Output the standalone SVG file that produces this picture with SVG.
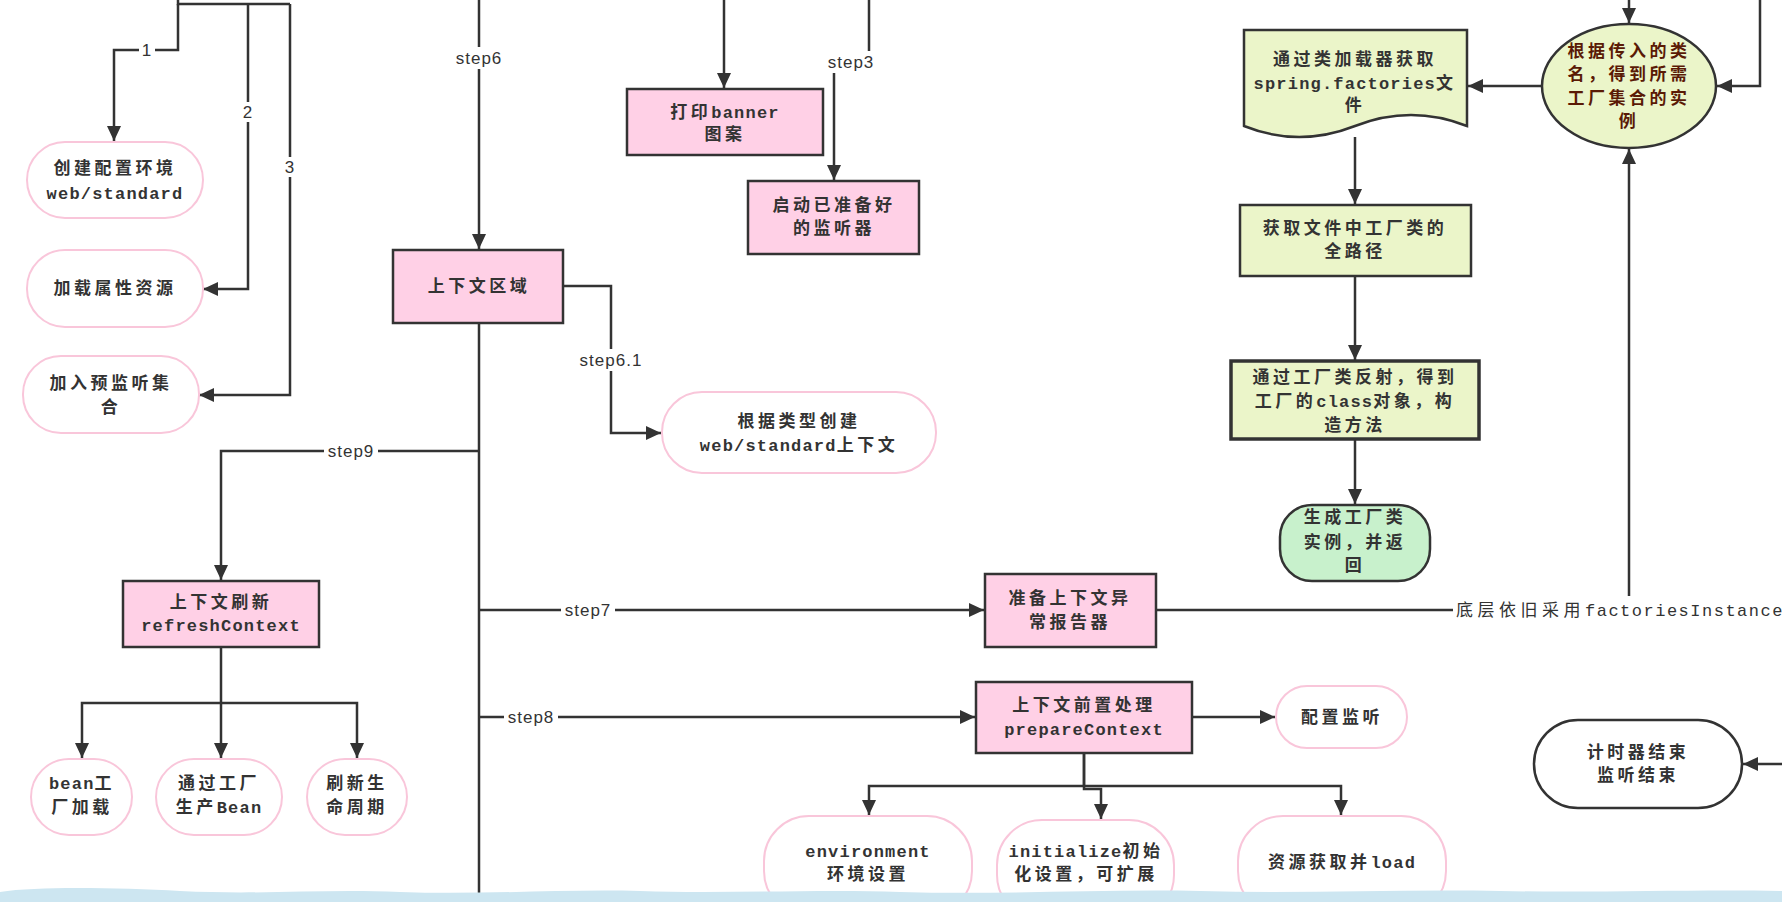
<svg xmlns="http://www.w3.org/2000/svg" width="1782" height="902" viewBox="0 0 1782 902">
<defs>
<marker id="ah" markerUnits="userSpaceOnUse" markerWidth="16" markerHeight="14" refX="15" refY="7" orient="auto">
<path d="M0,0 L15,7 L0,14 z" fill="#333"/>
</marker>
<style>
.c{fill:none;stroke:#333;stroke-width:2.5}
.a{marker-end:url(#ah)}
.pk{fill:#ffd0e6;stroke:#333;stroke-width:2.5}
.rw{fill:#fff;stroke:#f9c6da;stroke-width:2}
.gr{fill:#ebf5c9;stroke:#333;stroke-width:2.5}
.t{font-family:"Noto Sans CJK SC","Liberation Mono",sans-serif;font-weight:bold;font-size:17px;letter-spacing:3.5px;fill:#333;text-anchor:middle}
.m{font-family:"Liberation Mono","Noto Sans CJK SC",monospace;letter-spacing:1.2px}
.s{font-family:"Liberation Sans",Arial,sans-serif;font-size:17px;letter-spacing:1px;fill:#333;text-anchor:middle}
.bg{fill:#fff}
</style>
</defs>
<rect x="0" y="0" width="1782" height="902" fill="#fff"/>

<g id="connectors">
<path class="c" d="M178,0 V4 H290"/>
<path class="c a" d="M178,4 V50 H114 V141"/>
<path class="c a" d="M248,4 V289 H203"/>
<path class="c a" d="M290,4 V395 H199"/>
<path class="c a" d="M479,0 V249"/>
<path class="c a" d="M724,0 V88"/>
<path class="c a" d="M869,0 V62 H834 V180"/>
<path class="c a" d="M563,286 H611 V433 H661"/>
<path class="c" d="M479,323 V902"/>
<path class="c a" d="M479,451 H221 V580"/>
<path class="c a" d="M479,610 H984"/>
<path class="c a" d="M479,717 H975"/>
<path class="c a" d="M1192,717 H1275"/>
<path class="c a" d="M1084,753 V786 H869 V815"/>
<path class="c a" d="M1084,753 V789 H1101 V819"/>
<path class="c a" d="M1084,786 H1341 V815"/>
<path class="c a" d="M221,647 V758"/>
<path class="c a" d="M221,703 H82 V758"/>
<path class="c a" d="M221,703 H357 V758"/>
<path class="c a" d="M1355,137 V204"/>
<path class="c a" d="M1355,276 V360"/>
<path class="c a" d="M1355,439 V504"/>
<path class="c a" d="M1542,86 H1468"/>
<path class="c a" d="M1629,0 V23"/>
<path class="c a" d="M1760,0 V86 H1717"/>
<path class="c a" d="M1156,610 H1629 V149"/>
<path class="c a" d="M1782,764 H1743"/>
<rect class="bg" x="139" y="40" width="16" height="20"/>
<text class="s" x="147" y="56">1</text>
<rect class="bg" x="240" y="102" width="16" height="20"/>
<text class="s" x="248" y="118">2</text>
<rect class="bg" x="282" y="157" width="16" height="20"/>
<text class="s" x="290" y="173">3</text>
<rect class="bg" x="452" y="47" width="54" height="22"/>
<text class="s" x="479" y="64">step6</text>
<rect class="bg" x="824" y="51" width="54" height="22"/>
<text class="s" x="851" y="68">step3</text>
<rect class="bg" x="575" y="349" width="72" height="22"/>
<text class="s" x="611" y="366">step6.1</text>
<rect class="bg" x="324" y="440" width="54" height="22"/>
<text class="s" x="351" y="457">step9</text>
<rect class="bg" x="561" y="599" width="54" height="22"/>
<text class="s" x="588" y="616">step7</text>
<rect class="bg" x="504" y="706" width="54" height="22"/>
<text class="s" x="531" y="723">step8</text>
<rect class="bg" x="1453" y="596" width="340" height="28"/>
<text class="t" x="1456" y="616" style="text-anchor:start;font-weight:normal;letter-spacing:4.5px">底层依旧采用<tspan class="m" style="letter-spacing:1.5px">factoriesInstances</tspan></text>
</g>

<g id="n1"><rect class="rw" x="27" y="142" width="176" height="76" rx="38"/><text class="t" x="115" y="174">创建配置环境</text><text class="t" x="115" y="199"><tspan class="m">web/standard</tspan></text></g>
<g id="n2"><rect class="rw" x="27" y="250" width="176" height="77" rx="38"/><text class="t" x="115" y="294">加载属性资源</text></g>
<g id="n3"><rect class="rw" x="23" y="356" width="176" height="77" rx="38"/><text class="t" x="111" y="389">加入预监听集</text><text class="t" x="111" y="413">合</text></g>
<g id="n4"><rect class="pk" x="393" y="250" width="170" height="73"/><text class="t" x="479" y="292">上下文区域</text></g>
<g id="n5"><rect class="pk" x="627" y="89" width="196" height="66"/><text class="t" x="725" y="118">打印<tspan class="m">banner</tspan></text><text class="t" x="725" y="140">图案</text></g>
<g id="n6"><rect class="pk" x="748" y="181" width="171" height="73"/><text class="t" x="834" y="211">启动已准备好</text><text class="t" x="834" y="234">的监听器</text></g>
<g id="n7"><rect class="rw" x="662" y="392" width="274" height="81" rx="40"/><text class="t" x="799" y="427">根据类型创建</text><text class="t" x="799" y="451"><tspan class="m">web/standard</tspan>上下文</text></g>
<g id="n8"><rect class="pk" x="123" y="581" width="196" height="66"/><text class="t" x="221" y="608">上下文刷新</text><text class="t" x="221" y="631"><tspan class="m">refreshContext</tspan></text></g>
<g id="n9"><rect class="rw" x="31" y="759" width="101" height="76" rx="38"/><text class="t" x="82" y="789"><tspan class="m">bean</tspan>工</text><text class="t" x="82" y="813">厂加载</text></g>
<g id="n10"><rect class="rw" x="156" y="759" width="126" height="76" rx="38"/><text class="t" x="219" y="789">通过工厂</text><text class="t" x="219" y="813">生产<tspan class="m">Bean</tspan></text></g>
<g id="n11"><rect class="rw" x="307" y="759" width="100" height="76" rx="38"/><text class="t" x="357" y="789">刷新生</text><text class="t" x="357" y="813">命周期</text></g>
<g id="n12"><rect class="pk" x="985" y="574" width="171" height="73"/><text class="t" x="1070" y="604">准备上下文异</text><text class="t" x="1070" y="628">常报告器</text></g>
<g id="n13"><rect class="pk" x="976" y="682" width="216" height="71"/><text class="t" x="1084" y="711">上下文前置处理</text><text class="t" x="1084" y="735"><tspan class="m">prepareContext</tspan></text></g>
<g id="n14"><rect class="rw" x="1276" y="686" width="131" height="62" rx="31"/><text class="t" x="1342" y="723">配置监听</text></g>
<g id="n15"><rect class="rw" x="764" y="816" width="208" height="100" rx="45"/><text class="t" x="868" y="857"><tspan class="m">environment</tspan></text><text class="t" x="868" y="880">环境设置</text></g>
<g id="n16"><rect class="rw" x="997" y="820" width="177" height="100" rx="45"/><text class="t" x="1086" y="857"><tspan class="m">initialize</tspan>初始</text><text class="t" x="1086" y="880">化设置，可扩展</text></g>
<g id="n17"><rect class="rw" x="1238" y="816" width="208" height="100" rx="45"/><text class="t" x="1342" y="868">资源获取并<tspan class="m">load</tspan></text></g>
<g id="n18"><rect x="1534" y="720" width="208" height="88" rx="44" fill="#fff" stroke="#333" stroke-width="2.5"/><text class="t" x="1638" y="758">计时器结束</text><text class="t" x="1638" y="781">监听结束</text></g>
<g id="n19"><path class="gr" d="M1244,30 H1467 V126 Q1411,104 1355,126 Q1299,148 1244,126 Z"/><text class="t" x="1355" y="65">通过类加载器获取</text><text class="t" x="1355" y="89"><tspan class="m">spring.factories</tspan>文</text><text class="t" x="1355" y="111">件</text></g>
<g id="n20"><rect class="gr" x="1240" y="205" width="231" height="71"/><text class="t" x="1355" y="234">获取文件中工厂类的</text><text class="t" x="1355" y="257">全路径</text></g>
<g id="n21"><rect class="gr" x="1231" y="361" width="248" height="78" style="stroke-width:3.5"/><text class="t" x="1355" y="383">通过工厂类反射，得到</text><text class="t" x="1355" y="407">工厂的<tspan class="m">class</tspan>对象，构</text><text class="t" x="1355" y="431">造方法</text></g>
<g id="n22"><rect x="1280" y="505" width="150" height="76" rx="32" fill="#c8f1cc" stroke="#333" stroke-width="2.5"/><text class="t" x="1355" y="523">生成工厂类</text><text class="t" x="1355" y="548">实例，并返</text><text class="t" x="1355" y="571">回</text></g>
<g id="n23"><ellipse cx="1629" cy="86" rx="87" ry="62" fill="#ebf5c9" stroke="#333" stroke-width="2.5"/><text class="t" x="1629" y="57" style="fill:#5a1a05">根据传入的类</text><text class="t" x="1629" y="80" style="fill:#5a1a05">名，得到所需</text><text class="t" x="1629" y="104" style="fill:#5a1a05">工厂集合的实</text><text class="t" x="1629" y="127" style="fill:#5a1a05">例</text></g>

<path d="M0,892 C40,886 120,888 180,891 C260,895 320,889 400,892 C480,895 560,889 640,891 C720,894 820,889 900,892 C1000,895 1100,889 1200,891 C1300,894 1400,889 1500,891 C1600,893 1700,889 1782,891 V902 H0 Z" fill="#cde6f1"/>
</svg>
